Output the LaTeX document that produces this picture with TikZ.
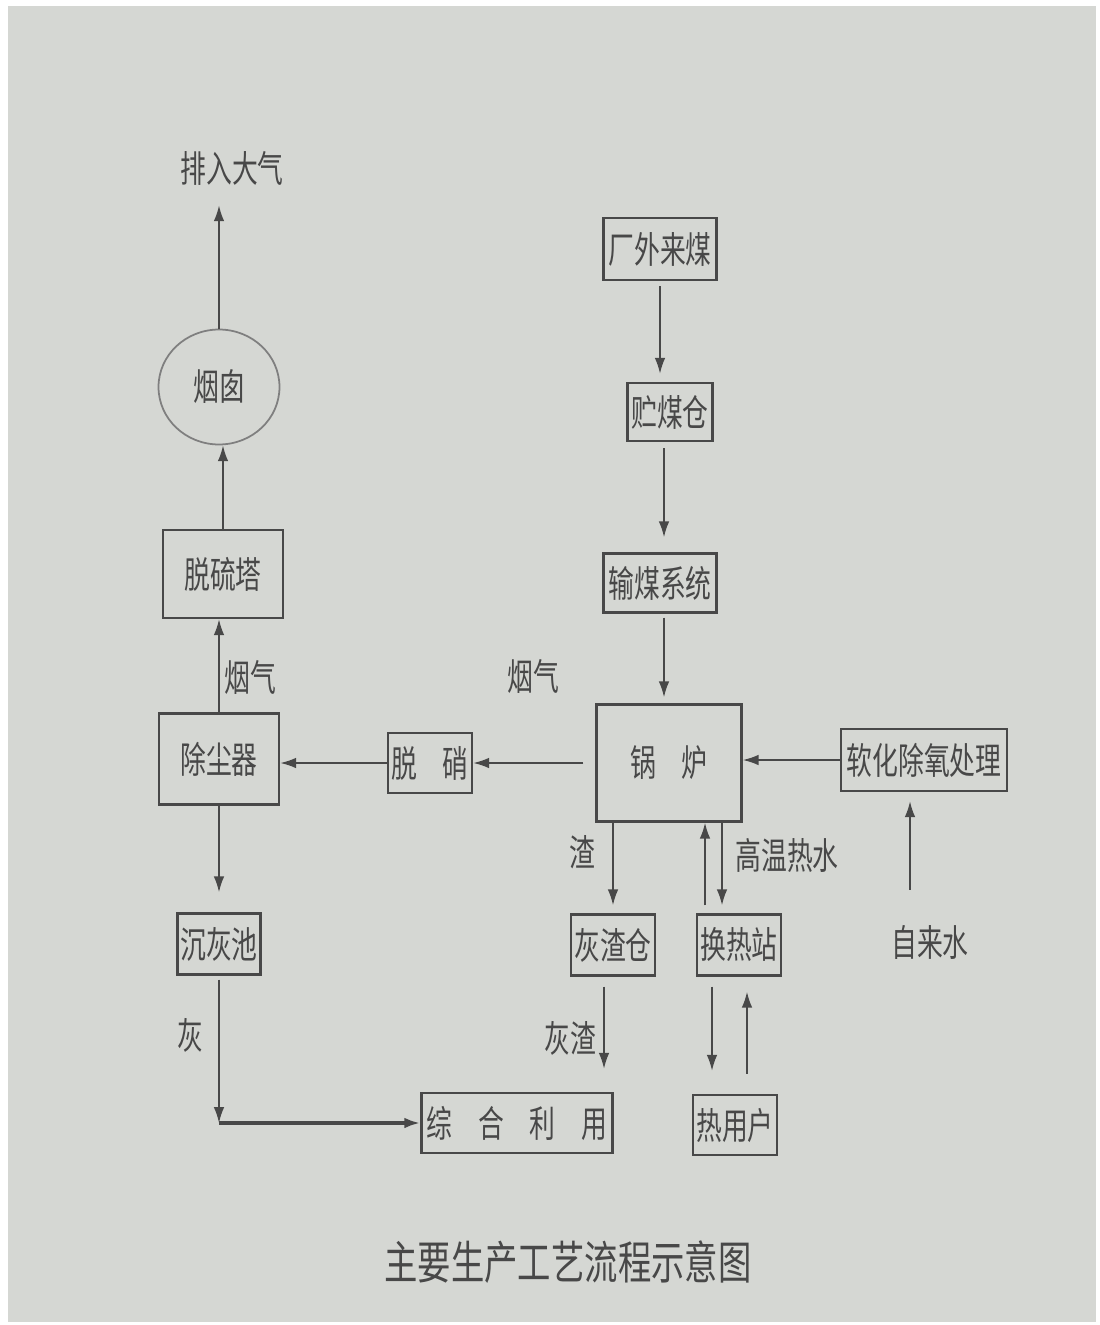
\documentclass[tikz,border=0pt]{standalone}
\usepackage{fontspec}
\newfontfamily\cjk[FakeStretch=0.7]{Noto Sans CJK SC}
\newfontfamily\cjktitle[FakeStretch=0.73]{Noto Sans CJK SC}
\usetikzlibrary{arrows.meta,shapes.geometric}
\definecolor{paper}{RGB}{213,215,211}
\definecolor{ink}{RGB}{72,72,72}
\newcommand\gap{\hspace{0.7em}}
\tikzset{
  unit/.style={draw=ink, line width=1.4pt, inner sep=0pt, text=ink,
    font=\cjk\fontsize{21}{21}\selectfont},
  lbl/.style={inner sep=0pt, text=ink, font=\cjk\fontsize{21}{21}\selectfont},
  flow/.style={draw=ink, line width=1pt, -{Latex[length=9pt,width=6pt]}},
}
\begin{document}
\begin{tikzpicture}[x=0.02cm,y=-0.02cm]
  % page
  \fill[white] (0,0) rectangle (1099,1325);
  \fill[paper] (8,6) rectangle (1096,1322);

  % coal line
  \node[unit, minimum width=2.26cm, minimum height=1.24cm] (coal) at (660,249) {厂外来煤};
  \node[unit, minimum width=1.70cm, minimum height=1.16cm] (store) at (670,412) {贮煤仓};
  \node[unit, minimum width=2.26cm, minimum height=1.18cm] (conv) at (660,583) {输煤系统};
  \node[unit, minimum width=2.90cm, minimum height=2.34cm] (boiler) at (669,763) {锅\gap 炉};
  \node[unit, minimum width=3.32cm, minimum height=1.24cm] (soft) at (924,760) {软化除氧处理};
  \node[lbl] (tap) at (930,942) {自来水};

  % flue gas line
  \node[unit, minimum width=1.68cm, minimum height=1.20cm] (denox) at (430,763) {脱\gap 硝};
  \node[unit, minimum width=2.40cm, minimum height=1.82cm] (dust) at (219,759) {除尘器};
  \node[unit, minimum width=2.40cm, minimum height=1.76cm] (desulf) at (223,574) {脱硫塔};
  \node[unit, ellipse, draw=ink!70, line width=1pt, minimum width=2.42cm, minimum height=2.30cm] (chimney) at (219,387) {烟囱};
  \node[lbl] (air) at (232,168) {排入大气};

  % ash and heat
  \node[unit, minimum width=1.66cm, minimum height=1.22cm] (ashpond) at (219,944) {沉灰池};
  \node[unit, minimum width=1.68cm, minimum height=1.22cm] (slagbin) at (613,945) {灰渣仓};
  \node[unit, minimum width=1.68cm, minimum height=1.22cm] (hx) at (739,945) {换热站};
  \node[unit, minimum width=3.82cm, minimum height=1.20cm] (reuse) at (517,1123) {综\gap 合\gap 利\gap 用};
  \node[unit, minimum width=1.68cm, minimum height=1.20cm] (users) at (735,1125) {热用户};

  % labels
  \node[lbl] (gas1) at (250,677) {烟气};
  \node[lbl] (gas2) at (533,676) {烟气};
  \node[lbl] (slag) at (582,852) {渣};
  \node[lbl] (hot) at (787,855) {高温热水};
  \node[lbl] (ashslag) at (570,1038) {灰渣};
  \node[lbl] (ash) at (190,1035) {灰};
  \node[inner sep=0pt, text=ink, font=\cjktitle\fontsize{26}{26}\selectfont] (title) at (568,1262) {主要生产工艺流程示意图};

  % helper points
  \coordinate (hwdown) at ([xshift=-0.34cm]hx.north);
  \coordinate (hwup) at ([xshift=-0.68cm]hx.north);
  \coordinate (usdown) at ([xshift=-0.54cm]hx.south);
  \coordinate (usup) at ([xshift=0.16cm]hx.south);
  \coordinate (tapin) at ([xshift=-0.28cm]soft.south);
  \coordinate (bend) at (ashpond.south |- reuse.west);

  % connectors
  \draw[flow, shorten <=0.1cm, shorten >=0.16cm] (coal.south) -- (coal.south |- store.north);
  \draw[flow, shorten <=0.12cm, shorten >=0.3cm] ([xshift=-0.12cm]store.south) -- ([xshift=-0.12cm]store.south |- conv.north);
  \draw[flow, shorten <=0.08cm, shorten >=0.12cm] ([xshift=0.08cm]conv.south) -- ([xshift=0.08cm]conv.south |- boiler.north);
  \draw[flow] (soft.west) -- (soft.west -| boiler.east);
  \draw[flow, shorten <=0.24cm] (boiler.west) -- (boiler.west -| denox.east);
  \draw[flow] (denox.west) -- (denox.west -| dust.east);
  \draw[flow] (dust.north) -- (dust.north |- desulf.south);
  \draw[flow] (desulf.north) -- (desulf.north |- chimney.south);
  \draw[flow, shorten >=0.4cm] (chimney.north) -- (chimney.north |- air.south);
  \draw[flow, shorten >=0.4cm] (dust.south) -- (dust.south |- ashpond.north);
  \draw[flow, shorten <=0.08cm] (ashpond.south) -- (bend);
  \draw[flow, line width=2pt] (bend) -- (reuse.west);
  \draw[flow, shorten >=0.16cm] (boiler.south -| slagbin.north) -- (slagbin.north);
  \draw[flow, shorten >=0.16cm] (hwdown |- boiler.south) -- (hwdown);
  \draw[flow, shorten <=0.16cm] (hwup) -- (hwup |- boiler.south);
  \draw[flow, shorten <=0.2cm, shorten >=0.46cm] ([xshift=-0.18cm]slagbin.south) -- ([xshift=-0.18cm]slagbin.south |- reuse.north);
  \draw[flow, shorten <=0.2cm, shorten >=0.46cm] (usdown) -- (usdown |- users.north);
  \draw[flow, shorten <=0.4cm, shorten >=0.3cm] (usup |- users.north) -- (usup);
  \draw[flow, shorten <=0.7cm, shorten >=0.18cm] (tapin |- tap.north) -- (tapin);
\end{tikzpicture}
\end{document}
